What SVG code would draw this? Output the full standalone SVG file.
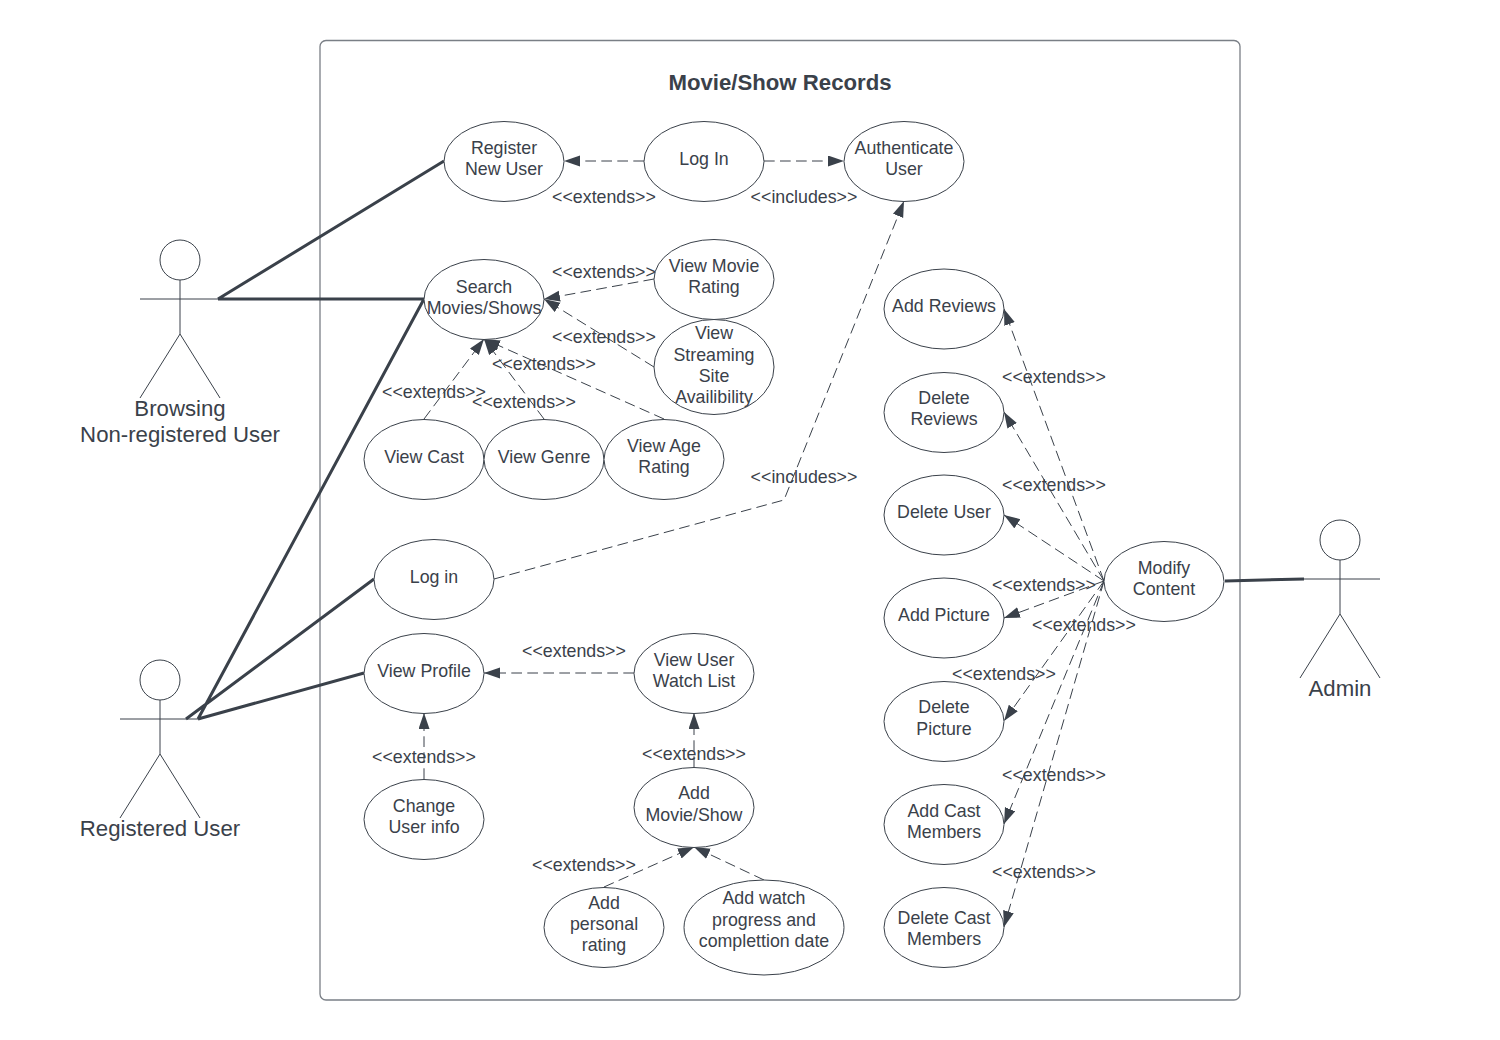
<svg xmlns="http://www.w3.org/2000/svg" width="1500" height="1040" viewBox="0 0 1500 1040">
<style>
text{font-family:"Liberation Sans",Arial,sans-serif;font-size:17.8px;fill:#3a414a;text-anchor:middle}
.n{fill:#fff;stroke:#3a414a;stroke-width:1}
.s{fill:none;stroke:#3a414a;stroke-width:1}
.d{fill:none;stroke:#3a414a;stroke-width:1;stroke-dasharray:10.7 5.3;marker-end:url(#a)}
.t{fill:none;stroke:#3a414a;stroke-width:3}
.big{font-size:22.2px}
.title{font-size:22.2px;font-weight:bold}
</style>
<defs><marker id="a" markerUnits="userSpaceOnUse" markerWidth="18" markerHeight="13" refX="16" refY="5.500" orient="auto"><path d="M0 0L16 5.500L0 11Z" fill="#3a414a"/></marker></defs>
<rect width="1500" height="1040" fill="#fff"/>
<rect x="320" y="40.500" width="920" height="959.500" rx="6" fill="#fff" stroke="#7a7f86" stroke-width="1.300"/>
<text class="title" x="780" y="90">Movie/Show Records</text>
<g id="connectors">
<path class="t" d="M218 299L444 161M218 299H424M198 719L424 299M186 719L374 579M198 719L364 673M1225 581L1304 579"/>
<path class="d" d="M644 161H564"/>
<path class="d" d="M764 161H844"/>
<path class="d" d="M654 279L544 299"/>
<path class="d" d="M654 367L544 299"/>
<path class="d" d="M424 419L484 339"/>
<path class="d" d="M544 419L484 339"/>
<path class="d" d="M664 419L484 339"/>
<path class="d" d="M494 579L784 500L904 201"/>
<path class="d" d="M634 673H484"/>
<path class="d" d="M424 779V713"/>
<path class="d" d="M694 767V713"/>
<path class="d" d="M604 887L694 847"/>
<path class="d" d="M764 880L694 847"/>
<path class="d" d="M1104 581L1004 309"/>
<path class="d" d="M1104 581L1004 412"/>
<path class="d" d="M1104 581L1004 515"/>
<path class="d" d="M1104 581L1004 618"/>
<path class="d" d="M1104 581L1004 721"/>
<path class="d" d="M1104 581L1004 824"/>
<path class="d" d="M1104 581L1004 927"/>
</g>
<g id="actor-browsing"><circle class="n" cx="180" cy="260" r="20"/><path class="s" d="M180 280V334M140 299H220M140 398L180 334L220 398"/><text class="big" x="180" y="416">Browsing</text><text class="big" x="180" y="442">Non-registered User</text></g>
<g id="actor-registered"><circle class="n" cx="160" cy="680" r="20"/><path class="s" d="M160 700V754M120 719H200M120 818L160 754L200 818"/><text class="big" x="160" y="836">Registered User</text></g>
<g id="actor-admin"><circle class="n" cx="1340" cy="540" r="20"/><path class="s" d="M1340 560V614M1300 579H1380M1300 678L1340 614L1380 678"/><text class="big" x="1340" y="696">Admin</text></g>
<g id="register"><ellipse class="n" cx="504" cy="161.500" rx="60" ry="40"/><text x="504" y="154">Register</text><text x="504" y="175">New User</text></g>
<g id="login-top"><ellipse class="n" cx="704" cy="161.500" rx="60" ry="40"/><text x="704" y="165">Log In</text></g>
<g id="auth"><ellipse class="n" cx="904" cy="161.500" rx="60" ry="40"/><text x="904" y="154">Authenticate</text><text x="904" y="175">User</text></g>
<g id="search"><ellipse class="n" cx="484" cy="299.500" rx="60" ry="40"/><text x="484" y="293">Search</text><text x="484" y="314">Movies/Shows</text></g>
<g id="movie-rating"><ellipse class="n" cx="714" cy="279.500" rx="60" ry="40"/><text x="714" y="272">View Movie</text><text x="714" y="293">Rating</text></g>
<g id="streaming"><ellipse class="n" cx="714" cy="367" rx="60" ry="47.500"/><text x="714" y="339">View</text><text x="714" y="361">Streaming</text><text x="714" y="382">Site</text><text x="714" y="403">Availibility</text></g>
<g id="cast"><ellipse class="n" cx="424" cy="459.500" rx="60" ry="40"/><text x="424" y="463">View Cast</text></g>
<g id="genre"><ellipse class="n" cx="544" cy="459.500" rx="60" ry="40"/><text x="544" y="463">View Genre</text></g>
<g id="age"><ellipse class="n" cx="664" cy="459.500" rx="60" ry="40"/><text x="664" y="452">View Age</text><text x="664" y="473">Rating</text></g>
<g id="login"><ellipse class="n" cx="434" cy="579.500" rx="60" ry="40"/><text x="434" y="583">Log in</text></g>
<g id="profile"><ellipse class="n" cx="424" cy="673.500" rx="60" ry="40"/><text x="424" y="677">View Profile</text></g>
<g id="watchlist"><ellipse class="n" cx="694" cy="673.500" rx="60" ry="40"/><text x="694" y="666">View User</text><text x="694" y="687">Watch List</text></g>
<g id="change"><ellipse class="n" cx="424" cy="819.500" rx="60" ry="40"/><text x="424" y="812">Change</text><text x="424" y="833">User info</text></g>
<g id="addmovie"><ellipse class="n" cx="694" cy="807.500" rx="60" ry="40"/><text x="694" y="799">Add</text><text x="694" y="821">Movie/Show</text></g>
<g id="personal"><ellipse class="n" cx="604" cy="927.500" rx="60" ry="40"/><text x="604" y="909">Add</text><text x="604" y="930">personal</text><text x="604" y="951">rating</text></g>
<g id="progress"><ellipse class="n" cx="764" cy="927.500" rx="80" ry="47.500"/><text x="764" y="904">Add watch</text><text x="764" y="926">progress and</text><text x="764" y="947">complettion date</text></g>
<g id="addreviews"><ellipse class="n" cx="944" cy="309" rx="60" ry="40"/><text x="944" y="312">Add Reviews</text></g>
<g id="delreviews"><ellipse class="n" cx="944" cy="412.500" rx="60" ry="40"/><text x="944" y="404">Delete</text><text x="944" y="425">Reviews</text></g>
<g id="deluser"><ellipse class="n" cx="944" cy="515" rx="60" ry="40"/><text x="944" y="518">Delete User</text></g>
<g id="addpic"><ellipse class="n" cx="944" cy="618" rx="60" ry="40"/><text x="944" y="621">Add Picture</text></g>
<g id="delpic"><ellipse class="n" cx="944" cy="721.500" rx="60" ry="40"/><text x="944" y="713">Delete</text><text x="944" y="735">Picture</text></g>
<g id="addcast"><ellipse class="n" cx="944" cy="824.500" rx="60" ry="40"/><text x="944" y="817">Add Cast</text><text x="944" y="838">Members</text></g>
<g id="delcast"><ellipse class="n" cx="944" cy="927.500" rx="60" ry="40"/><text x="944" y="924">Delete Cast</text><text x="944" y="945">Members</text></g>
<g id="modify"><ellipse class="n" cx="1164" cy="581.500" rx="60" ry="40"/><text x="1164" y="574">Modify</text><text x="1164" y="595">Content</text></g>
<g id="labels">
<text x="604" y="202.500">&lt;&lt;extends&gt;&gt;</text>
<text x="804" y="202.500">&lt;&lt;includes&gt;&gt;</text>
<text x="604" y="277.500">&lt;&lt;extends&gt;&gt;</text>
<text x="604" y="342.500">&lt;&lt;extends&gt;&gt;</text>
<text x="544" y="369.500">&lt;&lt;extends&gt;&gt;</text>
<text x="434" y="397.500">&lt;&lt;extends&gt;&gt;</text>
<text x="524" y="407.500">&lt;&lt;extends&gt;&gt;</text>
<text x="804" y="482.500">&lt;&lt;includes&gt;&gt;</text>
<text x="574" y="656.500">&lt;&lt;extends&gt;&gt;</text>
<text x="424" y="762.500">&lt;&lt;extends&gt;&gt;</text>
<text x="694" y="759.500">&lt;&lt;extends&gt;&gt;</text>
<text x="584" y="870.500">&lt;&lt;extends&gt;&gt;</text>
<text x="1054" y="382.500">&lt;&lt;extends&gt;&gt;</text>
<text x="1054" y="490.500">&lt;&lt;extends&gt;&gt;</text>
<text x="1044" y="590.500">&lt;&lt;extends&gt;&gt;</text>
<text x="1084" y="630.500">&lt;&lt;extends&gt;&gt;</text>
<text x="1004" y="679.500">&lt;&lt;extends&gt;&gt;</text>
<text x="1054" y="780.500">&lt;&lt;extends&gt;&gt;</text>
<text x="1044" y="877.500">&lt;&lt;extends&gt;&gt;</text>
</g>
</svg>
